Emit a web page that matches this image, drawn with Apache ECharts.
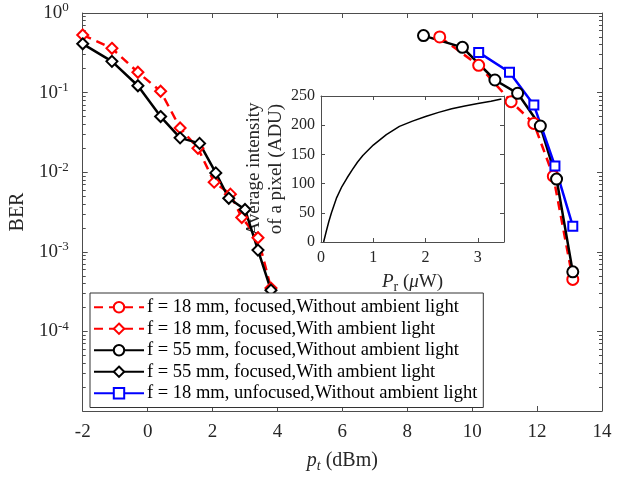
<!DOCTYPE html>
<html><head><meta charset="utf-8">
<script src="https://cdn.jsdelivr.net/npm/echarts@6/dist/echarts.min.js"></script>
<style>html,body{margin:0;padding:0;background:#fff}#c{width:625px;height:478px}</style>
</head><body><div id="c"></div>
<script>
// ---- data ----
const seriesNames = [
  'f = 18 mm, focused,Without ambient light',
  'f = 18 mm, focused,With ambient light',
  'f = 55 mm, focused,Without ambient light',
  'f = 55 mm, focused,With ambient light',
  'f = 18 mm, unfocused,Without ambient light'
];
const redCircleX = [9.0, 10.2, 11.2, 11.9, 12.5, 13.1];
const redCircleY = [0.50, 0.22, 0.077, 0.041, 0.0089, 0.00045];
const redDiamondX = [-2.0, -1.1, -0.3, 0.4, 1.0, 1.55, 2.05, 2.55, 2.9, 3.4, 3.8];
const redDiamondY = [0.53, 0.36, 0.18, 0.104, 0.036, 0.02, 0.0075, 0.0053, 0.0027, 0.0015, 0.00035];
const blackCircleX = [8.5, 9.7, 10.7, 11.4, 12.1, 12.6, 13.1];
const blackCircleY = [0.52, 0.37, 0.144, 0.098, 0.038, 0.0082, 0.00056];
const blackDiamondX = [-2.0, -1.1, -0.3, 0.4, 1.0, 1.6, 2.1, 2.5, 3.0, 3.4, 3.8];
const blackDiamondY = [0.41, 0.247, 0.122, 0.05, 0.027, 0.023, 0.0098, 0.0047, 0.0034, 0.00105, 0.00033];
const blueSquareX = [10.2, 11.15, 11.9, 12.55, 13.1];
const blueSquareY = [0.32, 0.18, 0.07, 0.012, 0.0021];
// inset curve
const insetPr = [0.05, 0.1, 0.15, 0.2, 0.3, 0.4, 0.5, 0.6, 0.7, 0.8, 1.0, 1.25, 1.5, 1.75, 2.0, 2.25, 2.5, 2.75, 3.0, 3.25, 3.45];
const insetADU = [0, 18, 35, 50, 76, 95, 110, 124, 137, 148, 166, 184, 198, 207, 215, 222, 228, 233, 237, 241, 245];
const xTickMin = -2, xTickMax = 14, xTickStep = 2;
const yMin = 1e-5, yMax = 1;

const zip = (a, b) => a.map((v, i) => [v, b[i]]);
const FONT = '"Liberation Serif", "Times New Roman", serif';
const AX = '#4d4d4d';

const chart = echarts.init(document.getElementById('c'), null, {renderer: 'canvas'});

function mk(name, xs, ys, color, symbol, size, dashed) {
  return {
    name, type: 'line', xAxisIndex: 0, yAxisIndex: 0,
    data: zip(xs, ys), symbol, symbolSize: size,
    lineStyle: {color, width: 2.5, type: dashed ? [9, 6] : 'solid'},
    itemStyle: {color, borderColor: color, borderWidth: 2.5},
    emphasis: {disabled: true}, animation: false
  };
}

const supFmt = v => {
  const e = Math.round(Math.log10(v));
  if (e === -5) return '';
  return '{b|10}{s|' + e + '}';
};
const line = {onZero: false, lineStyle: {color: AX, width: 1}};

const option = {
  animation: false,
  textStyle: {fontFamily: FONT},
  grid: [
    {left: 82, right: 23, top: 13, bottom: 65, containLabel: false},
    {left: 321, top: 96, width: 183, height: 146}
  ],
  xAxis: [
    {type: 'value', gridIndex: 0, min: xTickMin, max: xTickMax, interval: xTickStep,
     axisLine: line, axisTick: {inside: true, length: 5, lineStyle: {color: AX}},
     axisLabel: {color: '#262626', fontSize: 19, fontFamily: FONT, margin: 12},
     splitLine: {show: false},
     name: '{i|p}{t|t}{n| (dBm)}', nameLocation: 'middle', nameGap: 38,
     nameTextStyle: {rich: {
       i: {fontStyle: 'italic', fontSize: 20, fontFamily: FONT, color: '#262626'},
       t: {fontStyle: 'italic', fontSize: 14, fontFamily: FONT, color: '#262626', verticalAlign: 'bottom', padding: [10, 0, 0, 0]},
       n: {fontSize: 20, fontFamily: FONT, color: '#262626'}
     }}},
    {type: 'value', gridIndex: 0, position: 'top', min: xTickMin, max: xTickMax, interval: xTickStep,
     axisLine: line, axisTick: {inside: true, length: 5, lineStyle: {color: AX}},
     axisLabel: {show: false}, splitLine: {show: false}},
    {type: 'value', gridIndex: 1, min: 0, max: 3.5, interval: 1,
     axisLine: line, axisTick: {inside: true, length: 4, lineStyle: {color: AX}},
     axisLabel: {color: '#262626', fontSize: 16, fontFamily: FONT, margin: 8, showMaxLabel: false},
     splitLine: {show: false},
     name: '{i|P}{r|r}{n| (}{i|\u03bc}{n|W)}', nameLocation: 'middle', nameGap: 28,
     nameTextStyle: {rich: {
       i: {fontStyle: 'italic', fontSize: 19, fontFamily: FONT, color: '#262626'},
       r: {fontSize: 14, fontFamily: FONT, color: '#262626', verticalAlign: 'bottom', padding: [10, 0, 0, 0]},
       n: {fontSize: 19, fontFamily: FONT, color: '#262626'}
     }}},
    {type: 'value', gridIndex: 1, position: 'top', min: 0, max: 3.5, interval: 1,
     axisLine: line, axisTick: {inside: true, length: 4, lineStyle: {color: AX}},
     axisLabel: {show: false}, splitLine: {show: false}}
  ],
  yAxis: [
    {type: 'log', gridIndex: 0, logBase: 10, min: yMin, max: yMax,
     axisLine: line, axisTick: {inside: true, length: 5, lineStyle: {color: AX}},
     minorTick: {show: true, splitNumber: 9, length: 3, lineStyle: {color: AX}},
     axisLabel: {formatter: supFmt, margin: 14, rich: {
       b: {fontSize: 19, fontFamily: FONT, color: '#262626'},
       s: {fontSize: 13, fontFamily: FONT, color: '#262626', verticalAlign: 'top', padding: [0, 0, 10, 0]}
     }},
     splitLine: {show: false},
     name: 'BER', nameLocation: 'middle', nameGap: 52, nameRotate: 90,
     nameTextStyle: {fontSize: 20, fontFamily: FONT, color: '#262626'}},
    {type: 'log', gridIndex: 0, position: 'right', logBase: 10, min: yMin, max: yMax,
     axisLine: line, axisTick: {inside: true, length: 5, lineStyle: {color: AX}},
     minorTick: {show: true, splitNumber: 9, length: 3, lineStyle: {color: AX}},
     axisLabel: {show: false}, splitLine: {show: false}},
    {type: 'value', gridIndex: 1, min: 0, max: 250, interval: 50,
     axisLine: line, axisTick: {inside: true, length: 4, lineStyle: {color: AX}},
     axisLabel: {color: '#262626', fontSize: 16, fontFamily: FONT, margin: 6},
     splitLine: {show: false},
     name: 'Average intensity\nof a pixel (ADU)', nameLocation: 'middle', nameGap: 30, nameRotate: 90,
     nameTextStyle: {fontSize: 19, fontFamily: FONT, color: '#262626', lineHeight: 22}},
    {type: 'value', gridIndex: 1, position: 'right', min: 0, max: 250, interval: 50,
     axisLine: line, axisTick: {inside: true, length: 4, lineStyle: {color: AX}},
     axisLabel: {show: false}, splitLine: {show: false}}
  ],
  legend: {
    orient: 'vertical', left: 90, top: 293,
    data: seriesNames,
    itemWidth: 50, itemHeight: 13, itemGap: 1,
    padding: [4, 6, 4, 3],
    borderColor: '#333', borderWidth: 1, backgroundColor: '#fff',
    textStyle: {fontSize: 18.5, lineHeight: 20.5, fontFamily: FONT, color: '#000', padding: [0, 0, 0, -2]}
  },
  series: [
    mk(seriesNames[0], redCircleX, redCircleY, '#ff0000', 'emptyCircle', 11, true),
    mk(seriesNames[1], redDiamondX, redDiamondY, '#ff0000', 'emptyDiamond', 11, true),
    mk(seriesNames[2], blackCircleX, blackCircleY, '#000000', 'emptyCircle', 11, false),
    mk(seriesNames[3], blackDiamondX, blackDiamondY, '#000000', 'emptyDiamond', 11, false),
    mk(seriesNames[4], blueSquareX, blueSquareY, '#0000ff', 'emptyRect', 9, false),
    {type: 'line', xAxisIndex: 2, yAxisIndex: 2, data: zip(insetPr, insetADU), symbol: 'none',
     lineStyle: {color: '#000', width: 1.5}, emphasis: {disabled: true}}
  ]
};
chart.setOption(option);
</script></body></html>
